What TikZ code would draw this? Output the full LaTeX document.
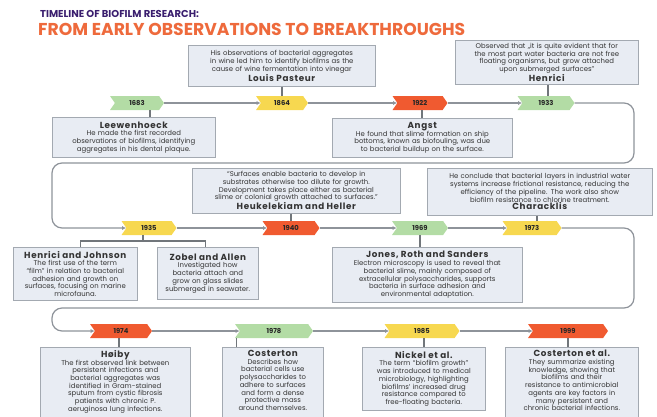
\documentclass[tikz,border=0pt]{standalone}
\usepackage{fontspec}
\setmainfont{Poppins}
\usepackage{xcolor}
\usepackage{tikz}
\usetikzlibrary{
  arrows.meta,
  shapes.symbols,
  positioning,
  calc,
  shadows
}
\definecolor{bfGreen}{HTML}{B3DCA5}
\definecolor{bfYellow}{HTML}{F7D850}
\definecolor{bfRed}{HTML}{F05A30}
\definecolor{bfFill}{HTML}{E8ECF3}
\definecolor{bfEdge}{HTML}{A3A9B1}
\definecolor{bfLine}{HTML}{8E939A}
\definecolor{bfPurple}{HTML}{3A1E6E}
\definecolor{bfOrange}{HTML}{EE6A3C}
\newcommand{\bfname}[1]{{\fontsize{8.8}{9.8}\selectfont\bfseries\addfontfeature{LetterSpace=7}#1}}
\tikzset{
  yeartag/.style={
    signal, signal to=east, signal from=west, signal pointer angle=110,
    minimum height=14pt, inner sep=1pt, font=\fontsize{6.8}{7}\selectfont\bfseries,
    text=black!85
  },
  bfnote/.style={
    draw=bfEdge, fill=bfFill, line width=0.6pt, inner sep=3pt, align=center,
    anchor=north west, font=\fontsize{6.9}{7.7}\selectfont, text=black!80,
    drop shadow={shadow xshift=0.8pt, shadow yshift=-0.8pt, opacity=0.25}
  },
  stem/.style={line width=1.2pt, bfLine!80!black},
  flow/.style={-{Latex[length=4pt, width=4pt]}, line width=1.2pt, bfLine, rounded corners=10pt},
  headsmall/.style={font=\fontsize{10}{11}\selectfont\bfseries, text=bfPurple, anchor=west, inner sep=0pt},
  headbig/.style={font=\fontsize{17.2}{19}\selectfont\bfseries, text=bfOrange, anchor=west, inner sep=0pt}
}

\begin{document}
\begin{tikzpicture}[x=1pt, y=-1pt]
  \path[use as bounding box, clip] (0,0) rectangle (657,416);

  % title
  \node[headsmall] (head1) at (40,14) {TIMELINE OF BIOFILM RESEARCH:};
  \node[headbig] (head2) at (38,29) {FROM EARLY OBSERVATIONS TO BREAKTHROUGHS};

  % year tags
  \foreach \yr/\col/\x/\y/\w in {
      1683/bfGreen/137/103/54, 1864/bfYellow/282/103/52, 1922/bfRed/420/103/55, 1933/bfGreen/546/103/57,
      1935/bfYellow/149/228/55, 1940/bfRed/291/228/57, 1969/bfGreen/420/228/56, 1973/bfYellow/532/228/59,
      1974/bfRed/121/331/62, 1978/bfGreen/274/331/78, 1985/bfYellow/422/331/75, 1999/bfRed/568/331/80}{
    \node[yeartag, fill=\col, minimum width=\w pt] (t\yr) at (\x,\y) {\yr};
  }

  % turning points of the timeline
  \coordinate (turnA) at (634,163);
  \coordinate (turnB) at (52,163);
  \coordinate (turnC) at (634,308);
  \coordinate (turnD) at (52,308);

  \foreach \a/\b in {1683/1864,1864/1922,1922/1933,1935/1940,1940/1969,1969/1973,1974/1978,1978/1985,1985/1999}{
    \draw[flow] (t\a.east) -- (t\b.west);
  }
  \draw[flow] (t1933.east) -| (turnA) -- (turnB) |- (t1935.west);
  \draw[flow] (t1973.east) -| (turnC) -- (turnD) |- (t1974.west);

  % notes, first row
  \node[bfnote, text width=181pt, minimum height=41pt] (b1864) at (188,45)
    {His observations of bacterial aggregates\\ in wine led him to identify biofilms as the\\ cause of wine fermentation into vinegar\\ \bfname{Louis Pasteur}};
  \node[bfnote, text width=177pt, minimum height=42pt] (b1933) at (455,40)
    {Observed that „it is quite evident that for\\ the most part water bacteria are not free\\ floating organisms, but grow attached\\ upon submerged surfaces”\\ \bfname{Henrici}};
  \node[bfnote, text width=157pt, minimum height=40pt] (b1683) at (52,117)
    {\bfname{Leewenhoeck}\\ He made the first recorded\\ observations of biofilms, identifying\\ aggregates in his dental plaque.};
  \node[bfnote, text width=174pt, minimum height=39pt] (b1922) at (332,118)
    {\bfname{Angst}\\ He found that slime formation on ship\\ bottoms, known as biofouling, was due\\ to bacterial buildup on the surface.};

  % notes, second row
  \node[bfnote, text width=202pt, minimum height=45pt] (b1940) at (192,168)
    {“Surfaces enable bacteria to develop in\\ substrates otherwise too dilute for growth.\\ Development takes place either as bacterial\\ slime or colonial growth attached to surfaces.”\\ \bfname{Heukelekiam and Heller}};
  \node[bfnote, text width=219pt, minimum height=47pt] (b1973) at (427,168)
    {He conclude that bacterial layers in industrial water\\ systems increase frictional resistance, reducing the\\ efficiency of the pipeline. The work also show\\ biofilm resistance to chlorine treatment.\\ \bfname{Characklis}};
  \node[bfnote, text width=118pt, minimum height=53pt] (bHJ) at (13,247)
    {\bfname{Henrici and Johnson}\\ The first use of the term\\ “film” in relation to bacterial\\ adhesion and growth on\\ surfaces, focusing on marine\\ microfauna.};
  \node[bfnote, text width=95pt, minimum height=52pt] (bZA) at (157,247)
    {\bfname{Zobel and Allen}\\ Investigated how\\ bacteria attach and\\ grow on glass slides\\ submerged in seawater.};
  \node[bfnote, text width=184pt, minimum height=55pt] (b1969) at (332,247)
    {\bfname{Jones, Roth and Sanders}\\ Electron microscopy is used to reveal that\\ bacterial slime, mainly composed of\\ extracellular polysaccharides, supports\\ bacteria in surface adhesion and\\ environmental adaptation.};

  % notes, third row (cut at the lower edge)
  \node[bfnote, text width=144pt] (b1974) at (40,347)
    {\bfname{Høiby}\\ The first observed link between\\ persistent infections and\\ bacterial aggregates was\\ identified in Gram-stained\\ sputum from cystic fibrosis\\ patients with chronic P.\\ aeruginosa lung infections.\\ ~};
  \node[bfnote, text width=95pt] (b1978) at (222,347)
    {\bfname{Costerton}\\ Describes how\\ bacterial cells use\\ polysaccharides to\\ adhere to surfaces\\ and form a dense\\ protective mass\\ around themselves.\\ ~};
  \node[bfnote, text width=117pt, minimum height=63pt] (b1985) at (362,347)
    {\bfname{Nickel et al.}\\ The term “biofilm growth”\\ was introduced to medical\\ microbiology, highlighting\\ biofilms' increased drug\\ resistance compared to\\ free-floating bacteria.};
  \node[bfnote, text width=127pt] (b1999) at (505,347)
    {\bfname{Costerton et al.}\\ They summarize existing\\ knowledge, showing that\\ biofilms and their\\ resistance to antimicrobial\\ agents are key factors in\\ many persistent and\\ chronic bacterial infections.\\ ~};

  % stems
  \draw[stem] (b1864.south -| t1864.north) -- (t1864.north);
  \draw[stem] ([xshift=2pt]b1933.south -| t1933.north) -- ([xshift=2pt]t1933.north);
  \draw[stem] ([xshift=13pt]t1683.south) -- ([xshift=13pt]t1683.south |- b1683.north);
  \draw[stem] ([xshift=2pt]t1922.south) -- ([xshift=2pt]t1922.south |- b1922.north);
  \draw[stem] (b1940.south -| t1940.north) -- (t1940.north);
  \draw[stem] ([xshift=5pt]b1973.south -| t1973.north) -- ([xshift=5pt]t1973.north);
  \draw[stem] (t1969.south) -- (t1969.south |- b1969.north);
  \coordinate (fork) at (143,241);
  \draw[stem] (t1935.south -| fork) -- (fork);
  \draw[stem] ([xshift=5pt]bHJ.north) |- (fork) -| ([xshift=-2pt]bZA.north);
  \draw[stem] ([xshift=-2pt]t1974.south) -- ([xshift=-2pt]t1974.south |- b1974.north);
  \draw[stem] ([xshift=2pt]t1978.south west) -- ([xshift=2pt]t1978.south west |- b1978.north);
  \draw[stem] ([xshift=2pt]t1985.south) -- ([xshift=2pt]t1985.south |- b1985.north);
  \draw[stem] (t1999.south) -- (t1999.south |- b1999.north);
\end{tikzpicture}
\end{document}
